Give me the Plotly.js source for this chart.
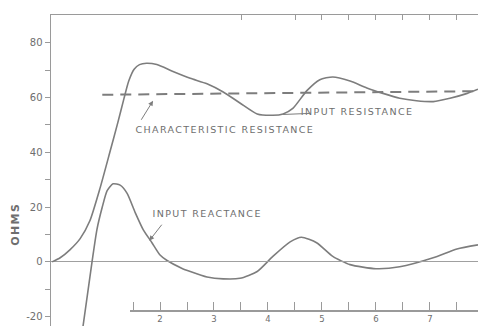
<!DOCTYPE html>
<html>
<head>
<meta charset="utf-8">
<script src="https://cdn.plot.ly/plotly-3.0.1.min.js"></script>
<style>
html,body{margin:0;padding:0;background:#fff;}
#chart{width:480px;height:326px;}
#chart .annotation-text{letter-spacing:1.4px;}
</style>
</head>
<body>
<div id="chart"></div>
<script>
// Input resistance (ohms) vs x
const resX = [0, 0.15, 0.33, 0.52, 0.70, 0.89, 1.07, 1.22, 1.33, 1.42, 1.52, 1.62, 1.75, 1.94, 2.24, 2.56, 2.87, 3.17, 3.48, 3.80, 4.09, 4.28, 4.46, 4.72, 4.96, 5.20, 5.52, 5.83, 6.13, 6.44, 6.75, 7.06, 7.37, 7.69, 7.89];
const resY = [0, 1.5, 4.4, 8.5, 15, 27, 40, 51, 59.5, 66, 70.3, 72, 72.5, 72, 69.5, 67, 65, 62, 58, 54, 53.5, 54, 56, 62.5, 66.5, 67.5, 66, 63.5, 61.5, 59.7, 58.8, 58.5, 59.7, 61.5, 63];
// Input reactance (ohms)
const reaX = [0.50, 0.74, 0.83, 0.93, 1.02, 1.13, 1.26, 1.39, 1.54, 1.69, 1.85, 2.0, 2.13, 2.4, 2.56, 2.87, 3.17, 3.48, 3.8, 4.09, 4.41, 4.62, 4.9, 5.2, 5.52, 6.0, 6.44, 7.06, 7.5, 7.89];
const reaY = [-33.8, 0, 11.7, 20, 26, 28.5, 28, 25, 18, 11.7, 7, 2.5, 0.5, -2.3, -3.5, -5.5, -6.2, -6, -3.5, 2, 7.3, 9, 7, 2, -1, -2.5, -1.8, 1.5, 4.7, 6.2];
// Characteristic resistance (dashed)
const charX = [0.93, 7.89];
const charY = [61, 62.3];
// Axis ticks
const yTickVals = [-20, -10, 0, 10, 20, 30, 40, 50, 60, 70, 80];
const yTickText = ['-20', '', '0', '', '20', '', '40', '', '60', '', '80'];
const xTickVals = [2, 3, 4, 5, 6, 7];
const xTickText = ['2', '3', '4', '5', '6', '7'];
const topTickVals = [3.5, 4.5, 5, 5.5, 6, 6.5, 7, 7.5];

const ink = '#7d7d7d';
const axisInk = '#9a9a9a';
const textInk = '#6e6e6e';

const traces = [
  {x: resX, y: resY, type: 'scatter', mode: 'lines', line: {color: ink, width: 1.6, shape: 'spline', smoothing: 0.6}, hoverinfo: 'skip'},
  {x: reaX, y: reaY, type: 'scatter', mode: 'lines', line: {color: ink, width: 1.6, shape: 'spline', smoothing: 0.6}, hoverinfo: 'skip'},
  {x: charX, y: charY, type: 'scatter', mode: 'lines', line: {color: ink, width: 2, dash: '11px,7px'}, hoverinfo: 'skip'},
  // empty trace so the lower scale axis gets its own subplot
  {x: [], y: [], type: 'scatter', mode: 'lines', xaxis: 'x2', yaxis: 'y', hoverinfo: 'skip'}
];

const lblFont = {family: 'DejaVu Sans', size: 9.5, color: textInk};

const layout = {
  width: 480, height: 326,
  margin: {l: 51, r: 2, t: 15, b: 0},
  paper_bgcolor: '#ffffff', plot_bgcolor: 'rgba(0,0,0,0)',
  showlegend: false,
  xaxis: {
    range: [-0.02, 7.89], side: 'top', showline: true, linecolor: axisInk, linewidth: 1.5,
    ticks: 'inside', ticklen: 5, tickcolor: axisInk, tickvals: topTickVals, showticklabels: false,
    showgrid: false, zeroline: false
  },
  xaxis2: {
    anchor: 'free', position: 0.05, domain: [0.185, 1],
    range: [1.444, 7.89], showline: true, linecolor: axisInk, linewidth: 1.5,
    ticks: 'inside', ticklen: 8, tickcolor: axisInk, tickvals: xTickVals, ticktext: xTickText,
    minor: {dtick: 0.5, tick0: 0, ticks: 'inside', ticklen: 8, tickcolor: axisInk, showgrid: false},
    tickfont: {family: 'DejaVu Sans', size: 8.5, color: textInk},
    showgrid: false, zeroline: false
  },
  yaxis: {
    range: [-23.4, 90.1], showline: true, linecolor: axisInk, linewidth: 1.5,
    ticks: 'outside', ticklen: 5, tickcolor: axisInk, tickvals: yTickVals, ticktext: yTickText,
    tickfont: {family: 'DejaVu Sans', size: 10, color: textInk},
    showgrid: false, zeroline: true, zerolinecolor: '#a0a0a0', zerolinewidth: 1
  },
  yaxis2: {
    overlaying: 'y', side: 'right', anchor: 'x', range: [-23.4, 90.1],
    showline: true, linecolor: axisInk, linewidth: 1.5,
    ticks: 'inside', ticklen: 5, tickcolor: axisInk, tick0: 2, dtick: 10, showticklabels: false,
    showgrid: false, zeroline: false
  },
  annotations: [
    {x: 3.21, y: 48.2, xref: 'x', yref: 'y', text: 'CHARACTERISTIC RESISTANCE', showarrow: false, xanchor: 'center', yanchor: 'middle', font: lblFont},
    {x: 1.87, y: 58.8, xref: 'x', yref: 'y', text: ' ', font: {size: 1}, showarrow: true, ax: -13, ay: 21, arrowhead: 2, arrowsize: 1, arrowwidth: 1, arrowcolor: ink},
    {x: 4.28, y: 53.8, xref: 'x', yref: 'y', text: 'INPUT RESISTANCE', font: lblFont, showarrow: true, ax: 74, ay: -3, arrowhead: 0, arrowwidth: 1, arrowcolor: ink},
    {x: 2.87, y: 17.5, xref: 'x', yref: 'y', text: 'INPUT REACTANCE', showarrow: false, xanchor: 'center', yanchor: 'middle', font: lblFont},
    {x: 1.80, y: 7.7, xref: 'x', yref: 'y', text: ' ', font: {size: 1}, showarrow: true, ax: 14, ay: -18, arrowhead: 2, arrowsize: 1, arrowwidth: 1, arrowcolor: ink},
    {x: -0.082, y: 0.328, xref: 'paper', yref: 'paper', text: '<b>OHMS</b>', textangle: -90, showarrow: false, xanchor: 'center', yanchor: 'middle', font: {family: 'DejaVu Sans', size: 11, color: textInk}}
  ]
};

Plotly.newPlot('chart', traces, layout, {staticPlot: true, displayModeBar: false});
</script>
</body>
</html>
